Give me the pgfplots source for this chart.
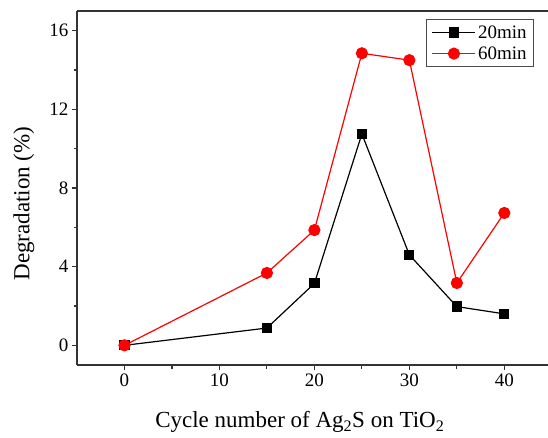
\documentclass[border=0pt]{standalone}
\usepackage{fontspec}
\setmainfont{Liberation Serif}
\usepackage{pgfplots}
\pgfplotsset{compat=1.18}

\begin{document}
\begin{tikzpicture}
\begin{axis}[
    scale only axis,
    width=471pt, height=354pt,
    xmin=-5, xmax=44.6,
    ymin=-1, ymax=17,
    axis x line=box,
    axis y line=left,
    axis line style={-, line width=1.2pt, black!80},
    xtick pos=left, ytick pos=left,
    tick align=outside,
    xtick={0,10,20,30,40},
    ytick={0,4,8,12,16},
    minor x tick num=1,
    minor y tick num=1,
    major tick length=5pt,
    minor tick length=3.5pt,
    every tick/.style={black!80, line width=1.1pt},
    /pgf/number format/assume math mode=true,
    tick label style={font=\fontsize{19}{22}\selectfont},
    label style={font=\fontsize{23}{27}\selectfont},
    xlabel={Cycle number of Ag\textsubscript{2}S on TiO\textsubscript{2}},
    ylabel={Degradation (\%)},
    xlabel style={at={(axis description cs:0.473,0)}, anchor=north, inner sep=0pt, yshift=-46pt},
    ylabel style={at={(axis description cs:-0.09,0.456)}, anchor=south, inner sep=0pt},
    legend style={at={(1,1)}, anchor=north east, xshift=-14pt, yshift=-8pt,
        draw=black!70, line width=0.8pt, font=\fontsize{19}{22}\selectfont,
        inner xsep=5pt, inner ysep=4pt, row sep=3pt},
    legend cell align=left,
    legend image code/.code={
        \draw[mark repeat=2, mark phase=2, #1] plot coordinates {(0pt,0pt) (21.5pt,0pt) (43pt,0pt)};
    },
]
\addplot[black, line width=1.2pt, mark=square*, mark size=4.5pt, mark options={fill=black, draw=black}]
    coordinates {(0,0) (15,0.88) (20,3.15) (25,10.75) (30,4.6) (35,1.97) (40,1.6)};
\addlegendentry{20min}
\addplot[red, line width=1.2pt, mark=*, mark size=5.5pt, mark options={fill=red, draw=red}]
    coordinates {(0,0) (15,3.68) (20,5.86) (25,14.85) (30,14.5) (35,3.17) (40,6.73)};
\addlegendentry{60min}
\coordinate (ll) at (rel axis cs:0,0);
\coordinate (ur) at (rel axis cs:1,1);
\end{axis}
\pgfresetboundingbox
\path ([shift={(-77pt,-72pt)}]ll) rectangle ([shift={(0pt,11pt)}]ur);
\end{tikzpicture}
\end{document}
